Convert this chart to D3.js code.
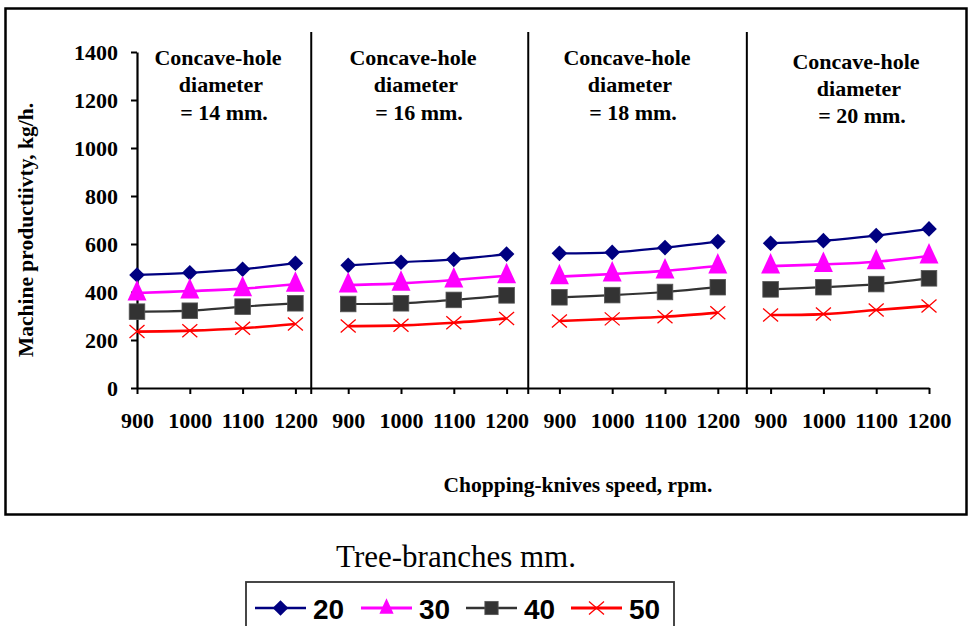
<!DOCTYPE html>
<html>
<head>
<meta charset="utf-8">
<script src="https://cdn.jsdelivr.net/npm/d3@7"></script>
<style>
  html, body { margin: 0; padding: 0; background: #fff; }
  svg { display: block; }
</style>
</head>
<body>
<svg id="chart" width="969" height="626"></svg>
<script>
// ---------- data ----------
const speeds = [900, 1000, 1100, 1200];
const diameters = [14, 16, 18, 20];
const branchSizes = ["20", "30", "40", "50"];
const yTicks = [0, 200, 400, 600, 800, 1000, 1200, 1400];
// values ordered: diameter 14 (900..1200), 16, 18, 20
const values20 = [471, 480, 495, 520, 511, 524, 536, 558, 561, 565, 585, 610, 603, 614, 635, 663];
const values30 = [396, 404, 414, 432, 429, 436, 450, 468, 464, 475, 488, 508, 508, 515, 526, 550];
const values40 = [318, 322, 339, 353, 350, 353, 367, 386, 378, 387, 400, 420, 411, 420, 433, 457];
const values50 = [235, 239, 249, 267, 258, 261, 272, 290, 279, 288, 297, 314, 304, 308, 325, 342];

// ---------- layout / style ----------
const svg = d3.select("#chart");
const serif = "'Liberation Serif', 'Times New Roman', serif";
const sans = "'Liberation Sans', Arial, sans-serif";

const categories = [];
diameters.forEach((d, di) => speeds.forEach((s, si) => categories.push(di * speeds.length + si)));

const x = d3.scalePoint().domain(categories).range([137, 929]);
const y = d3.scaleLinear().domain([0, 1400]).range([388, 52]);
const step = x.step();

const seriesStyle = [
  { name: branchSizes[0], values: values20, color: "#000080", width: 2.2, marker: "diamond" },
  { name: branchSizes[1], values: values30, color: "#FF00FF", width: 2.6, marker: "triangle" },
  { name: branchSizes[2], values: values40, color: "#333333", width: 2.2, marker: "square" },
  { name: branchSizes[3], values: values50, color: "#FF0000", width: 2.6, marker: "cross" }
];

// outer frame
svg.append("rect").attr("x", 5.5).attr("y", 8.5).attr("width", 961).attr("height", 506)
  .attr("fill", "none").attr("stroke", "#000").attr("stroke-width", 2.5);

// dividers (fractional category positions)
const dividerPos = [3.3, 7.41, 11.55];
svg.selectAll("line.div").data(dividerPos).enter().append("line")
  .attr("x1", d => x(0) + d * step).attr("x2", d => x(0) + d * step)
  .attr("y1", 32).attr("y2", 394)
  .attr("stroke", "#000").attr("stroke-width", 2);

// y axis
const yAxis = d3.axisLeft(y).tickValues(yTicks).tickFormat(d3.format("d"))
  .tickSize(6).tickSizeOuter(0).tickPadding(13);
const gy = svg.append("g").attr("transform", `translate(${x(0)},0)`).call(yAxis);
gy.attr("font-family", serif);
gy.select(".domain").attr("stroke-width", 2.2);
gy.selectAll(".tick line").attr("stroke-width", 2);
gy.selectAll("text").attr("font-family", serif).attr("font-weight", "bold")
  .attr("font-size", 22).attr("fill", "#000");

// x axis
const xAxis = d3.axisBottom(x).tickSize(6).tickSizeOuter(0).tickPadding(18)
  .tickFormat(i => speeds[i % speeds.length]);
const gx = svg.append("g").attr("transform", `translate(0,${y(0)})`).call(xAxis);
gx.attr("font-family", serif);
gx.select(".domain").attr("stroke-width", 2.2);
gx.selectAll(".tick line").attr("stroke-width", 2);
gx.selectAll("text").attr("font-family", serif).attr("font-weight", "bold")
  .attr("font-size", 22).attr("fill", "#000");

// axis titles
svg.append("text").attr("transform", "translate(33,230) rotate(-90)")
  .attr("text-anchor", "middle").attr("font-family", serif).attr("font-weight", "bold")
  .attr("font-size", 21.5).text("Machine productiivty, kg/h.");
svg.append("text").attr("x", 578).attr("y", 492)
  .attr("text-anchor", "middle").attr("font-family", serif).attr("font-weight", "bold")
  .attr("font-size", 21.5).text("Chopping-knives speed, rpm.");

// panel annotations
const panelCenters = [221, 416, 630, 859];
const panelDy = [0, 0, 0, 3.5];
diameters.forEach((d, i) => {
  const t = svg.append("text").attr("font-family", serif).attr("font-weight", "bold")
    .attr("font-size", 22).attr("text-anchor", "middle");
  const lines = ["Concave-hole", "diameter", `= ${d} mm.`];
  lines.forEach((ln, k) => {
    t.append("tspan").attr("x", panelCenters[i] - 3 + k * 3)
      .attr("y", 65 + panelDy[i] + k * 27.3).text(ln);
  });
});

// markers
function drawMarker(g, type, color, small) {
  const k = small ? 0.85 : 1;
  if (type === "diamond") {
    g.append("path").attr("d", "M0,-7.8L7.8,0L0,7.8L-7.8,0Z").attr("fill", color);
  } else if (type === "triangle") {
    const s = small ? 0.75 : 1;
    g.append("path").attr("d", `M0,${-13 * s}L${9.5 * s},${7.5 * s}L${-9.5 * s},${7.5 * s}Z`).attr("fill", color);
  } else if (type === "square") {
    g.append("rect").attr("x", -7.8 * k).attr("y", -7.8 * k).attr("width", 15.6 * k).attr("height", 15.6 * k)
      .attr("fill", color).attr("stroke", "#555").attr("stroke-width", 0.8);
  } else {
    g.append("path").attr("d", "M-7.5,-6.5L7.5,6.5M-7.5,6.5L7.5,-6.5")
      .attr("stroke", color).attr("stroke-width", 1.3).attr("fill", "none");
  }
}

const line = d3.line().x(d => x(d.i)).y(d => y(d.v)).curve(d3.curveCatmullRom.alpha(0.5));

seriesStyle.forEach(s => {
  const g = svg.append("g");
  diameters.forEach((d, di) => {
    const pts = speeds.map((sp, si) => {
      const i = di * speeds.length + si;
      return { i, v: s.values[i] };
    });
    g.append("path").datum(pts).attr("d", line).attr("fill", "none")
      .attr("stroke", s.color).attr("stroke-width", s.width);
  });
  s.values.forEach((v, i) => {
    const m = g.append("g").attr("transform", `translate(${x(i)},${y(v)})`);
    drawMarker(m, s.marker, s.color, false);
  });
});

// legend
svg.append("text").attr("x", 456).attr("y", 567).attr("text-anchor", "middle")
  .attr("font-family", serif).attr("font-size", 31).text("Tree-branches mm.");
svg.append("rect").attr("x", 246).attr("y", 582).attr("width", 428).attr("height", 60)
  .attr("fill", "#fff").attr("stroke", "#333").attr("stroke-width", 1.8);
const legendX = [255, 361, 466, 571];
seriesStyle.forEach((s, k) => {
  const g = svg.append("g").attr("transform", `translate(${legendX[k]},608)`);
  g.append("line").attr("x1", 0).attr("x2", 51).attr("y1", 0).attr("y2", 0)
    .attr("stroke", s.color).attr("stroke-width", s.width + 0.3);
  const m = g.append("g").attr("transform", "translate(25.5,0)");
  drawMarker(m, s.marker, s.color, true);
  g.append("text").attr("x", 58).attr("y", 10.5).attr("font-family", sans)
    .attr("font-weight", "bold").attr("font-size", 28).attr("fill", "#000").text(s.name);
});
</script>
</body>
</html>
